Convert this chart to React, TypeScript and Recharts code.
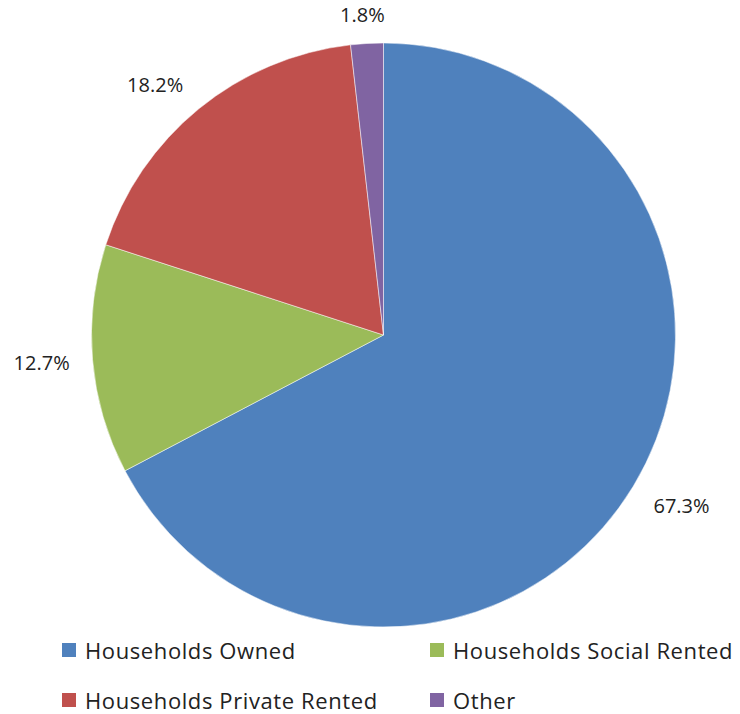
import React from "react";
import { PieChart, Pie, Cell, Legend } from "recharts";

const categories = ["Households Owned", "Households Social Rented", "Households Private Rented", "Other"];
const shares = [67.3, 12.7, 18.2, 1.8];
const colors = ["#4F81BD", "#9BBB59", "#C0504D", "#8064A2"];
// legend order as shown in the reference (two columns)
const legendOrder = [0, 1, 2, 3];

const data = categories.map((name, i) => ({ name, value: shares[i] }));

const FONT = "'Open Sans', sans-serif";
const RAD = Math.PI / 180;
const clamp = (v: number) => Math.max(-1, Math.min(1, v));

// anchor just outside the rim on the mid-angle ray, then push the text box out
const renderLabel = (props: any) => {
  const { cx, cy, midAngle, outerRadius, value } = props;
  const dx = Math.cos(-midAngle * RAD);
  const dy = Math.sin(-midAngle * RAD);
  const r = outerRadius + 20;
  const x = cx + r * dx + 31 * clamp(2 * dx);
  const y = cy + r * dy + 9 * clamp(2 * dy);
  return (
    <text x={x} y={y} fill="#222" fontSize={20} fontFamily={FONT} textAnchor="middle" dominantBaseline="central">
      {value.toFixed(1)}%
    </text>
  );
};

const renderLegend = () => (
  <div style={{ display: "grid", gridTemplateColumns: "368px 300px", rowGap: 23, fontFamily: FONT, fontSize: 22, letterSpacing: 0.6, color: "#222" }}>
    {legendOrder.map((i) => (
      <div key={i} style={{ display: "flex", alignItems: "center", height: 27, whiteSpace: "nowrap" }}>
        <span style={{ width: 14, height: 14, background: colors[i], marginRight: 9, display: "inline-block", flexShrink: 0 }} />
        <span>{categories[i]}</span>
      </div>
    ))}
  </div>
);

export default function App() {
  return (
    <div style={{ position: "absolute", left: 0, top: 0, background: "#fff", width: 740, height: 714 }}>
      <PieChart width={740} height={714}>
        <Pie
          data={data}
          dataKey="value"
          nameKey="name"
          cx={378.5}
          cy={330}
          outerRadius={292}
          startAngle={90}
          endAngle={-270}
          stroke="#ffffff"
          strokeWidth={0.5}
          label={renderLabel}
          labelLine={false}
          isAnimationActive={false}
        >
          {data.map((d, i) => (
            <Cell key={d.name} fill={colors[i]} />
          ))}
        </Pie>
        <Legend content={renderLegend} wrapperStyle={{ left: 62, top: 636, width: 668 }} />
      </PieChart>
    </div>
  );
}
